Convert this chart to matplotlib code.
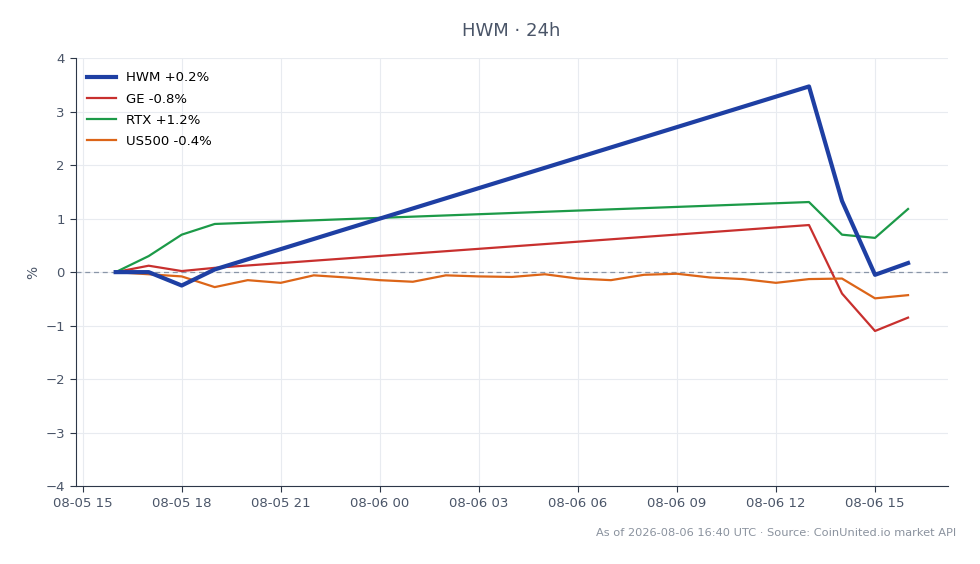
import matplotlib
matplotlib.use("Agg")
import matplotlib.pyplot as plt
import matplotlib.dates as mdates
import pandas as pd

# hourly timestamps, 08-05 16:00 -> 08-06 16:00 (UTC)
hours = pd.date_range("2026-08-05 16:00", "2026-08-06 16:00", freq="h")

# HWM / GE / RTX have a gap between 19:00 and 13:00
gap_idx = [0, 1, 2, 3, 21, 22, 23, 24]
hwm = [0.0, 0.0, -0.25, 0.05, 3.47, 1.33, -0.05, 0.17]
ge = [0.0, 0.12, 0.02, 0.08, 0.88, -0.40, -1.10, -0.85]
rtx = [0.0, 0.30, 0.70, 0.90, 1.31, 0.70, 0.64, 1.18]
us500 = [0.0, -0.04, -0.08, -0.28, -0.15, -0.20, -0.06, -0.10, -0.15, -0.18,
         -0.06, -0.08, -0.09, -0.04, -0.12, -0.15, -0.05, -0.03, -0.10, -0.13,
         -0.20, -0.13, -0.12, -0.49, -0.43]

labels = ["HWM +0.2%", "GE -0.8%", "RTX +1.2%", "US500 -0.4%"]
yticks = [-4, -3, -2, -1, 0, 1, 2, 3, 4]

text_col = "#4a5568"
fig = plt.figure(figsize=(9.8, 5.64), dpi=100)
ax = fig.add_axes([0.0776, 0.138, 0.8894, 0.759])

gx = hours[gap_idx]
ax.plot(gx, hwm, color="#1e3fa3", lw=3.0, label=labels[0], zorder=4)
ax.plot(gx, ge, color="#c8302e", lw=1.6, label=labels[1], zorder=3)
ax.plot(gx, rtx, color="#1c9a48", lw=1.6, label=labels[2], zorder=3)
ax.plot(hours, us500, color="#dc6518", lw=1.6, label=labels[3], zorder=3)

ax.axhline(0, color="#8a96a8", lw=0.9, ls=(0, (4, 3)), zorder=2)

ax.set_ylim(-4, 4)
ax.set_yticks(yticks)
ax.set_ylabel("%", color=text_col, fontsize=10)
ax.xaxis.set_major_locator(mdates.HourLocator(byhour=[0, 3, 6, 9, 12, 15, 18, 21]))
ax.xaxis.set_major_formatter(mdates.DateFormatter("%m-%d %H"))

ax.grid(True, color="#e8ebf0", lw=0.8)
ax.set_axisbelow(True)
for s in ["top", "right"]:
    ax.spines[s].set_visible(False)
for s in ["left", "bottom"]:
    ax.spines[s].set_color("#2d3748")
ax.tick_params(colors=text_col, labelsize=9.5, length=4.5)
ax.tick_params(axis="both", color="#2d3748")

ax.legend(loc="upper left", frameon=False, fontsize=9.5, handlelength=2.2,
          handletextpad=0.7, labelspacing=0.62, borderaxespad=0.45,
          bbox_to_anchor=(0.0, 0.995))

fig.text(0.522, 0.945, "HWM · 24h", ha="center", va="center", fontsize=13, color=text_col)
fig.text(0.976, 0.055, "As of 2026-08-06 16:40 UTC · Source: CoinUnited.io market API",
         ha="right", va="center", fontsize=8.2, color="#8a929e")

fig.savefig("out.png", dpi=100)
